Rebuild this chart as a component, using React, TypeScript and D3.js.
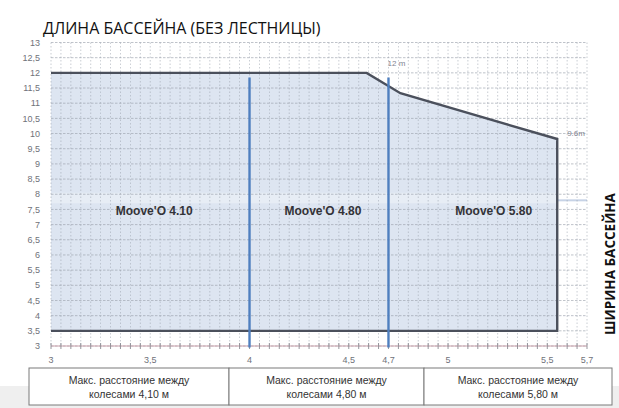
import React from "react";
import * as d3 from "d3";

// pool length limit outline (x = distance between wheels, y = pool length)
const outlineX = [3, 4.59, 4.76, 5.55, 5.55, 3];
const outlineY = [12, 12, 11.33, 9.82, 3.5, 3.5];

const dividers = [4, 4.7];
const models = ["Moove'O 4.10", "Moove'O 4.80", "Moove'O 5.80"];
const modelX = [3.52, 4.37, 5.23];
const modelY = 7.45;

const xTicks = [3, 3.5, 4, 4.5, 4.7, 5, 5.5, 5.7];
const yTicks = [3, 3.5, 4, 4.5, 5, 5.5, 6, 6.5, 7, 7.5, 8, 8.5, 9, 9.5, 10, 10.5, 11, 11.5, 12, 12.5, 13];

const boxLines = [
  ["Макс. расстояние между", "колесами 4,10 м"],
  ["Макс. расстояние между", "колесами 4,80 м"],
  ["Макс. расстояние между", "колесами 5,80 м"],
];

const W = 619;
const H = 408;

const fmt = (v: number) => String(v).replace(".", ",");

export default function App() {
  const x = d3.scaleLinear().domain([3, 5.7]).range([51, 587]);
  const y = d3.scaleLinear().domain([3, 13]).range([346, 42.5]);

  const pts: [number, number][] = outlineX.map((v, i) => [v, outlineY[i]]);
  const line = d3
    .line<[number, number]>()
    .x((d) => x(d[0]))
    .y((d) => y(d[1]));
  const area = line(pts.concat([[3, 12]])) || "";

  const vGrid = d3.range(0, 55).map((i) => 3 + i * 0.05);
  const hGrid = d3.range(0, 21).map((i) => 3 + i * 0.5);

  const boxEdges = [29, 229, 424, 612];

  return (
    <svg
      width={W}
      height={H}
      style={{ position: "absolute", left: 0, top: 0, background: "#fff" }}
    >
      <rect x={0} y={386} width={W} height={H - 386} fill="#efefef" />

      {/* filled zone */}
      <path d={area} fill="#dde5f1" />

      {/* light band behind model names */}
      <rect
        x={x(3)}
        y={y(8.05)}
        width={x(5.55) - x(3)}
        height={y(7.7) - y(8.05)}
        fill="#ffffff"
        opacity={0.3}
      />
      <line x1={x(5.55)} x2={x(5.7)} y1={y(7.8)} y2={y(7.8)} stroke="#c7d3e6" strokeWidth={2} />

      {/* grid */}
      <g>
        {vGrid.map((v, i) => (
          <line
            key={"v" + i}
            x1={x(v)}
            x2={x(v)}
            y1={y(13)}
            y2={y(3)}
            stroke="#9aa0ac"
            strokeWidth={0.7}
            strokeDasharray="1.5,2"
            opacity={0.75}
          />
        ))}
        {hGrid.map((v, i) => (
          <line
            key={"h" + i}
            x1={x(3)}
            x2={x(5.7)}
            y1={y(v)}
            y2={y(v)}
            stroke="#9aa0ac"
            strokeWidth={0.9}
            strokeDasharray="2.5,1.5"
            opacity={0.7}
          />
        ))}
        {/* bottom axis row */}
        <line x1={x(3)} x2={x(5.7)} y1={y(3)} y2={y(3)} stroke="#c9a0aa" strokeWidth={1.2} />
        {vGrid.map((v, i) => (
          <line
            key={"t" + i}
            x1={x(v)}
            x2={x(v)}
            y1={y(3) - 3}
            y2={y(3) + 3}
            stroke="#8a8a92"
            strokeWidth={0.9}
          />
        ))}
      </g>

      {/* outline */}
      <path d={line(pts) || ""} fill="none" stroke="#4b505c" strokeWidth={2.4} />

      {/* divider lines */}
      {dividers.map((d) => (
        <line
          key={d}
          x1={x(d)}
          x2={x(d)}
          y1={y(11.85)}
          y2={y(2.95)}
          stroke="#4f7fbf"
          strokeWidth={2.4}
        />
      ))}

      {/* model labels */}
      {models.map((m, i) => (
        <text
          key={m}
          x={x(modelX[i])}
          y={y(modelY)}
          dy="0.35em"
          textAnchor="middle"
          fontFamily="Liberation Sans Narrow, Liberation Sans, Arial"
          fontWeight="bold"
          fontSize={12}
          fill="#333338"
        >
          {m}
        </text>
      ))}

      {/* annotations */}
      <text x={x(4.74)} y={y(12.22)} textAnchor="middle" fontFamily="Liberation Sans" fontSize={8} fill="#7f8490">
        12 m
      </text>
      <text x={x(5.6)} y={y(9.92)} fontFamily="Liberation Sans" fontSize={8} fill="#7f8490">
        9.6m
      </text>

      {/* y tick labels */}
      {yTicks.map((t) => (
        <text
          key={"y" + t}
          x={40}
          y={y(t)}
          dy="0.35em"
          textAnchor="end"
          fontFamily="Liberation Sans Narrow, Liberation Sans, Arial"
          fontSize={9}
          fill="#6f727a"
        >
          {fmt(t)}
        </text>
      ))}

      {/* x tick labels */}
      {xTicks.map((t) => (
        <text
          key={"x" + t}
          x={x(t)}
          y={360}
          dy="0.35em"
          textAnchor="middle"
          fontFamily="Liberation Sans Narrow, Liberation Sans, Arial"
          fontSize={9}
          fill="#6f727a"
        >
          {fmt(t)}
        </text>
      ))}

      {/* title */}
      <text x={43} y={34} fontFamily="Open Sans, DejaVu Sans" fontSize={16} fill="#111">
        ДЛИНА БАССЕЙНА (БЕЗ ЛЕСТНИЦЫ)
      </text>

      {/* right axis title */}
      <text
        transform={`translate(615,264) rotate(-90)`}
        textAnchor="middle"
        fontFamily="Open Sans, DejaVu Sans"
        fontWeight="bold"
        fontSize={13.5}
        fill="#111"
      >
        ШИРИНА БАССЕЙНА
      </text>

      {/* bottom boxes */}
      {boxLines.map((lines, i) => {
        const x0 = boxEdges[i];
        const x1 = boxEdges[i + 1];
        return (
          <g key={i}>
            <rect x={x0} y={368} width={x1 - x0} height={37} fill="#ffffff" stroke="#7a7a7a" strokeWidth={1} />
            {lines.map((l, j) => (
              <text
                key={j}
                x={(x0 + x1) / 2}
                y={380 + j * 14}
                dy="0.35em"
                textAnchor="middle"
                fontFamily="Liberation Sans Narrow, Liberation Sans, Arial"
                fontSize={10.5}
                fill="#333"
              >
                {l}
              </text>
            ))}
          </g>
        );
      })}
    </svg>
  );
}
